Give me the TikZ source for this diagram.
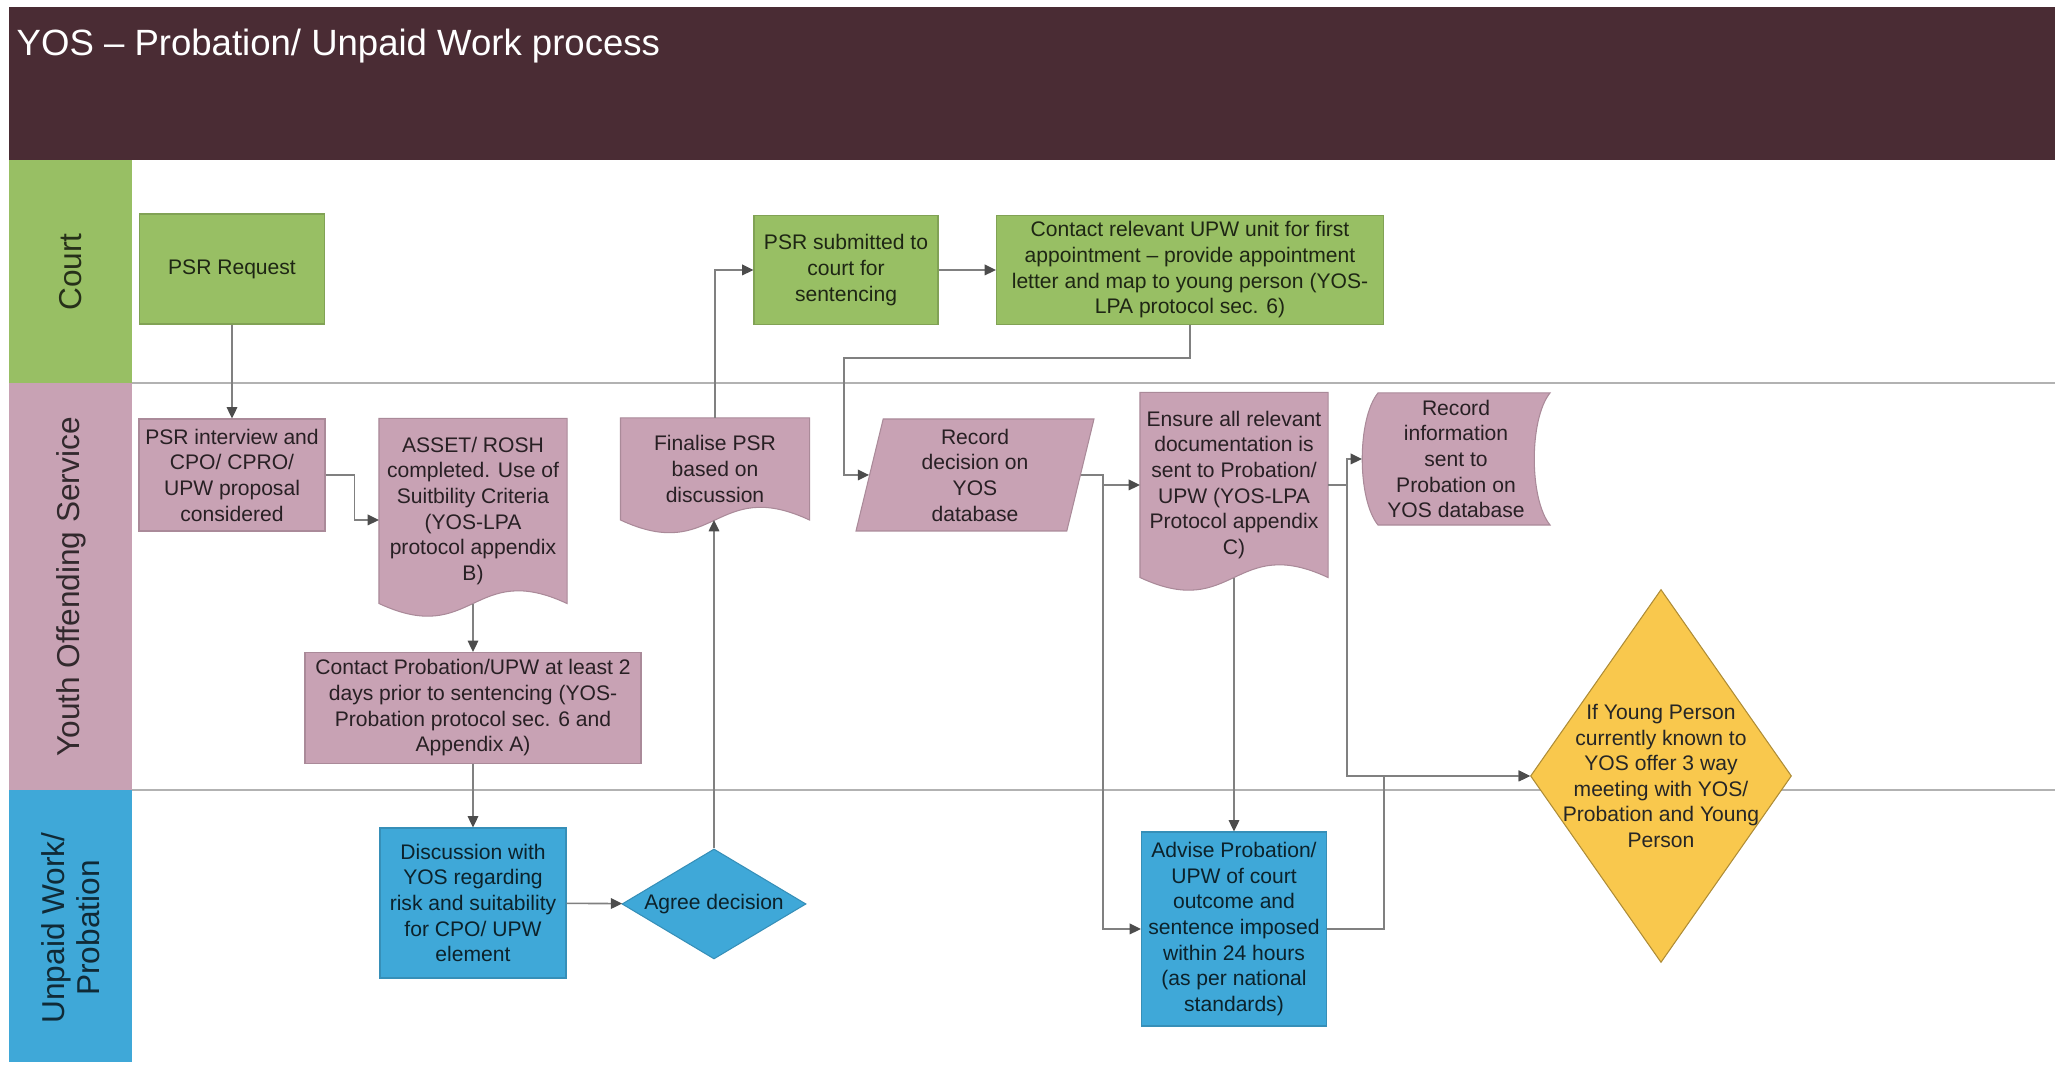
\documentclass[tikz,border=0pt]{standalone}
\usepackage{fontspec}
\setmainfont{Liberation Sans}
\usetikzlibrary{shapes.geometric, arrows.meta, calc, backgrounds}

\definecolor{TitleMaroon}{HTML}{4A2C34}
\definecolor{CourtGreen}{HTML}{98BF64}
\definecolor{YosPink}{HTML}{C8A2B4}
\definecolor{UpwBlue}{HTML}{3FA8D8}
\definecolor{MeetingYellow}{HTML}{F9C84D}
\colorlet{LaneLine}{black!30}
\colorlet{FlowLine}{black!50}

\newcommand{\boxfont}{\fontsize{6}{7.3}\selectfont}
\newcommand{\lanefont}{\fontsize{9}{10}\selectfont}

\begin{document}
\begin{tikzpicture}[x = 0.1mm, y = 0.1mm,
    box/.style = {rectangle, align = center, inner sep = 0.8pt, line width = 0.3pt, font = \boxfont},
    courtbox/.style = {box, fill = CourtGreen, draw = CourtGreen!85!black, text = CourtGreen!20!black},
    yosbox/.style = {box, fill = YosPink, draw = YosPink!85!black, text = YosPink!20!black},
    upwbox/.style = {box, fill = UpwBlue, draw = UpwBlue!85!black, text = UpwBlue!20!black},
    docbox/.style = {box, text = YosPink!20!black},
    shapefill/.style = {fill = YosPink, draw = YosPink!85!black, line width = 0.3pt},
    lanelabel/.style = {rotate = 90, align = center, font = \lanefont},
    flow/.style = {draw = FlowLine, line width = 0.45pt, -{Triangle[length = 3.2pt, width = 3pt, color = black!70]}},
]

\useasboundingbox (0, 0) rectangle (2055, 1065);

% title bar and lanes
\fill[TitleMaroon] (9, 905) rectangle (2055, 1058);
\node[anchor = west, text = white, inner sep = 0pt, font = \fontsize{10.4}{12}\selectfont] (title) at (16, 1019) {YOS – Probation/ Unpaid Work process};

\fill[CourtGreen] (9, 682) rectangle (132, 905);
\fill[YosPink] (9, 275) rectangle (132, 682);
\fill[UpwBlue] (9, 3) rectangle (132, 275);
\draw[LaneLine, line width = 0.6pt] (132, 682) -- (2055, 682);
\draw[LaneLine, line width = 0.6pt] (132, 275) -- (2055, 275);

\node[lanelabel, text = CourtGreen!25!black] (courtlane) at (71, 793) {Court};
\node[lanelabel, text = YosPink!25!black] (yoslane) at (71, 478) {Youth Offending Service};
\node[lanelabel, text = UpwBlue!25!black] (upwlane) at (71, 137) {Unpaid Work/\\Probation};

% steps
\node[courtbox, minimum width = 18.5mm, minimum height = 11mm] (psrreq) at (232, 796) {PSR Request};
\node[yosbox, minimum width = 18.6mm, minimum height = 11.2mm] (psrint) at (232, 590) {PSR interview and\\CPO/ CPRO/\\UPW proposal\\considered};
\node[docbox, minimum width = 18.7mm, minimum height = 18.4mm] (asset) at (473, 554) {ASSET/ ROSH\\completed. Use of\\Suitbility Criteria\\(YOS-LPA\\protocol appendix\\B)};
\node[yosbox, minimum width = 33.6mm, minimum height = 11.1mm] (contactprob) at (473, 357) {Contact Probation/UPW at least 2\\days prior to sentencing (YOS-\\Probation protocol sec. 6 and\\Appendix A)};
\node[upwbox, minimum width = 18.6mm, minimum height = 15mm] (discuss) at (473, 162) {Discussion with\\YOS regarding\\risk and suitability\\for CPO/ UPW\\element};
\node[upwbox, diamond, aspect = 1.67, inner sep = 0pt, minimum width = 18.4mm, minimum height = 11mm] (agree) at (714, 161) {Agree decision};
\node[docbox, minimum width = 18.8mm, minimum height = 10.1mm] (finalise) at (715, 596) {Finalise PSR\\based on\\discussion};
\node[courtbox, minimum width = 18.4mm, minimum height = 10.9mm] (psrsub) at (846, 795) {PSR submitted to\\court for\\sentencing};
\node[courtbox, minimum width = 38.7mm, minimum height = 10.9mm] (contactupw) at (1190, 795) {Contact relevant UPW unit for first\\appointment – provide appointment\\letter and map to young person (YOS-\\LPA protocol sec. 6)};
\node[yosbox, trapezium, trapezium left angle = 74.5, trapezium right angle = 105.5, trapezium stretches body, minimum width = 23.8mm, minimum height = 11.2mm] (recdec) at (975, 590) {Record\\decision on\\YOS\\database};
\node[docbox, minimum width = 18.7mm, minimum height = 18.4mm] (ensure) at (1234, 580) {Ensure all relevant\\documentation is\\sent to Probation/\\UPW (YOS-LPA\\Protocol appendix\\C)};
\node[docbox, minimum width = 18.7mm, minimum height = 13.1mm] (recinfo) at (1456, 606) {Record\\information\\sent to\\Probation on\\YOS database};
\node[upwbox, minimum width = 18.5mm, minimum height = 19.4mm] (advise) at (1234, 136) {Advise Probation/\\UPW of court\\outcome and\\sentence imposed\\within 24 hours\\(as per national\\standards)};
\node[diamond, fill = MeetingYellow, draw = MeetingYellow!70!black, line width = 0.3pt, inner sep = 0pt, minimum width = 26.1mm, minimum height = 37.3mm] (meeting) at (1661, 289) {};
\node[box, text = black!85] (meetingtext) at (meeting.center) {If Young Person\\currently known to\\YOS offer 3 way\\meeting with YOS/\\Probation and Young\\Person};

\begin{scope}[on background layer]
\foreach \doc in {asset, finalise, ensure}
    \filldraw[shapefill] (\doc.north west) -- (\doc.north east) -- (\doc.south east)
        .. controls ($(\doc.south) + (0, 44)$) and ($(\doc.south) + (0, -44)$) .. (\doc.south west) -- cycle;
\filldraw[shapefill] ([xshift = 1.6mm]recinfo.north west) -- (recinfo.north east)
    .. controls ($(recinfo.north east) + (-21, -26)$) and ($(recinfo.south east) + (-21, 26)$) .. (recinfo.south east)
    -- ([xshift = 1.6mm]recinfo.south west)
    .. controls ($(recinfo.south west) + (-5, 26)$) and ($(recinfo.north west) + (-5, -26)$) .. ([xshift = 1.6mm]recinfo.north west) -- cycle;
\end{scope}

% connectors
\draw[flow] (psrreq) -- (psrint);
\draw[flow] (psrint.east) -- ++(29, 0) |- ($(asset.west) + (0, -9)$);
\draw[flow] (asset.south) -- (contactprob.north);
\draw[flow] (contactprob) -- (discuss);
\draw[flow] (discuss) -- (agree);
\draw[flow] (agree.north) -- (agree.north |- finalise.south);
\draw[flow] (finalise.north) |- (psrsub.west);
\draw[flow] (psrsub) -- (contactupw);
\draw[flow] (contactupw.south) -- ++(0, -33) -| ($(recdec.west) + (-25, 0)$) -- (recdec.west);
\draw[flow] (recdec.east) -- ++(22, 0) coordinate (recsplit) |- (ensure.west);
\draw[flow] (recsplit) |- (advise.west);
\draw[flow] (ensure.south) -- (advise.north);
\draw[flow] (ensure.east) -- ++(19, 0) coordinate (ensuresplit) |- (recinfo.west);
\draw[flow] (ensuresplit) |- (meeting.west);
\draw[flow] (advise.east) -- ++(57, 0) |- (meeting.west);

\end{tikzpicture}
\end{document}
